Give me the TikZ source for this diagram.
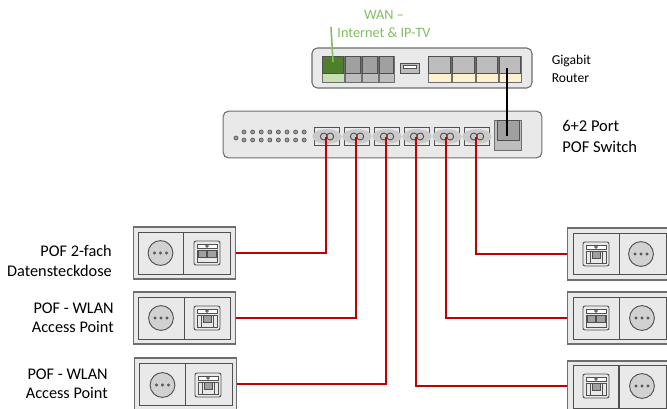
\documentclass[tikz,border=0pt]{standalone}
\usepackage{fontspec}
\setmainfont{Carlito}
\definecolor{boxfill}{HTML}{E9E9E9}
\definecolor{edge}{HTML}{6E6E6E}
\definecolor{darkedge}{HTML}{505050}
\definecolor{portdark}{HTML}{A0A0A0}
\definecolor{portlight}{HTML}{BDBDBD}
\definecolor{wandark}{HTML}{4E7F2A}
\definecolor{wanlight}{HTML}{C6E0B4}
\definecolor{cream}{HTML}{FFF2CC}
\definecolor{wangreen}{HTML}{84BD62}
\definecolor{pofred}{HTML}{C00000}
\tikzset{
  x=0.75pt,y=-0.75pt,
  lbl/.style={font=\fontsize{12.2pt}{14.4pt}\selectfont,text=black,inner sep=0pt,align=right},
  swlbl/.style={font=\fontsize{12.4pt}{15.6pt}\selectfont,text=black,inner sep=0pt,align=left},
  smalllbl/.style={font=\fontsize{10.2pt}{13.5pt}\selectfont,text=black,inner sep=0pt,align=left},
  wanlbl/.style={font=\fontsize{10.7pt}{13.5pt}\selectfont,text=wangreen,inner sep=0pt,align=center},
  device/.style={draw=edge,line width=0.8pt,fill=boxfill,rounded corners=4pt,inner sep=0pt},
  plate/.style={draw=edge,line width=0.8pt,fill=boxfill,inner sep=0pt},
  ln/.style={draw=darkedge,line width=0.7pt},
  redline/.style={draw=pofred,line width=1.3pt},
  blackline/.style={draw=black,line width=1.2pt},
  greenline/.style={draw=wangreen,line width=1.2pt},
  swport/.style={draw=darkedge,line width=0.7pt,fill=boxfill,minimum width=19pt,minimum height=14pt,inner sep=0pt},
  rport/.style={inner sep=0pt,minimum size=0pt}
}
% outlet drawn around a centre
\newcommand{\socketface}[2]{%
  \draw[ln,fill=portlight!55!boxfill] (#1,#2) circle (9.3pt);
  \foreach \d in {-6,0,6}{\draw[draw=darkedge,line width=0.5pt,fill=portdark] (#1+\d,#2) circle (0.8pt);}
}
\newcommand{\dataface}[3]{% x y kind (1 dual, 0 single)
  \begin{scope}[shift={(#1,#2)}]
    \draw[ln,fill=boxfill,rounded corners=1.5pt] (-13,-12) rectangle (13,12);
    \draw[draw=darkedge,line width=0.5pt,fill=white] (-10,-9) rectangle (10,-5);
    \draw[draw=darkedge,line width=0.5pt,fill=portdark] (0,-7) circle (1pt);
    \ifnum#3=1
      \draw[ln,fill=boxfill] (-10,-3) rectangle (10,9);
      \draw[draw=darkedge,line width=0.5pt,fill=portdark] (-9,-3) rectangle (-0.5,4);
      \draw[draw=darkedge,line width=0.5pt,fill=portdark] (0.5,-3) rectangle (9,4);
    \else
      \draw[ln,fill=boxfill] (-10,-3) rectangle (10,9);
      \draw[ln,fill=boxfill] (-6,-3) rectangle (6,9);
      \draw[draw=darkedge,line width=0.5pt,fill=portdark] (-4,-3) rectangle (4,4);
    \fi
  \end{scope}
}
\newcommand{\rj}[5]{% x1 x2 fill-top fill-bottom name
  \draw[draw=edge,line width=0.6pt,fill=#4] (#1,56) rectangle (#2,82);
  \draw[draw=darkedge,line width=0.6pt,fill=#3] (#1+0.7,56.5) rectangle (#2-0.7,73);
  \node[rport] (#5) at ({(#1+#2)/2},69) {};
}
\begin{document}
\begin{tikzpicture}
\useasboundingbox (0,0) rectangle (667,408);
\fill[white] (0,0) rectangle (667,408);

% router
\node[device,minimum width=165pt,minimum height=30pt] (router) at (422,68) {};
\rj{322}{344}{wandark}{wanlight}{wan}
\rj{345}{361}{portdark}{portlight}{r2}
\rj{362}{378}{portdark}{portlight}{r3}
\rj{379}{394}{portdark}{portlight}{r4}
\rj{428}{451}{portlight}{cream}{l1}
\rj{452}{475}{portlight}{cream}{l2}
\rj{476}{498}{portlight}{cream}{l3}
\rj{499}{521}{portlight}{cream}{l4}
\coordinate (l4tap) at (507,68);
\node[draw=darkedge,line width=0.7pt,fill=portlight,minimum width=14.5pt,minimum height=7.5pt,inner sep=0pt] (usb) at (410,68) {};
\node[draw=darkedge,line width=0.4pt,fill=white,minimum width=10pt,minimum height=2.5pt,inner sep=0pt] (usbi) at (410,67) {};

% switch
\node[device,minimum width=239pt,minimum height=35pt] (switch) at (382.5,134.5) {};
\foreach \c in {0,...,7}{
  \draw[draw=darkedge,line width=0.5pt,fill=portdark] (244+\c*8.6,132) circle (1.5pt);
  \draw[draw=darkedge,line width=0.5pt,fill=portdark] (244+\c*8.6,140) circle (1.5pt);
}
\draw[draw=darkedge,line width=0.5pt,fill=portdark] (236,138) circle (1.5pt);
\foreach \n/\x in {1/327,2/357,3/387,4/417,5/447,6/477}{
  \node[swport] (p\n) at (\x,136.5) {};
  \fill[portlight!70!boxfill] (\x,136.5) ellipse (11pt and 5.5pt);
  \draw[draw=darkedge,line width=0.7pt] (\x-3.2,136.5) circle (2.6pt);
  \draw[draw=darkedge,line width=0.7pt] (\x+3.2,136.5) circle (2.6pt);
  \coordinate (c\n) at (\x-0.7,136.5);
}
\node[draw=edge,line width=0.7pt,fill=portlight,minimum width=20pt,minimum height=23pt,inner sep=0pt] (up) at (508,135.5) {};
\node[draw=darkedge,line width=0.7pt,fill=portdark,minimum width=16.5pt,minimum height=14.5pt,inner sep=0pt] (upi) at (508,130.5) {};

% wall plates
\foreach \nm/\cx/\cy/\h in {a/184.5/253/52, b/184.5/318/52, c/185.5/384/52}{
  \node[plate,minimum width=77pt,minimum height=\h*0.75pt] (\nm) at (\cx,\cy) {};
}
\draw[ln,fill=boxfill] (138,232) rectangle (230,274);
\draw[ln] (183,232) -- (183,274);
\draw[ln,fill=boxfill] (138,297) rectangle (230,339);
\draw[ln] (184,297) -- (184,339);
\draw[ln,fill=boxfill] (139,363) rectangle (232,405);
\draw[ln] (185,363) -- (185,405);
\socketface{160.5}{253}\dataface{207}{253}{1}
\socketface{161}{318}\dataface{207}{318}{0}
\socketface{162.5}{385}\dataface{208}{385}{0}

\foreach \nm/\cx/\cy/\h in {d/617.5/254/52, e/617.5/318/52, f/617.5/386/50}{
  \node[plate,minimum width=75pt,minimum height=\h*0.75pt] (\nm) at (\cx,\cy) {};
}
\draw[ln,fill=boxfill] (573,233) rectangle (666,274);
\draw[ln] (619,233) -- (619,274);
\draw[ln,fill=boxfill] (573,297) rectangle (666,339);
\draw[ln] (619,297) -- (619,339);
\draw[ln,fill=boxfill] (573,365) rectangle (666,408);
\draw[ln,line width=1pt] (619,365) -- (619,408);
\dataface{596}{254}{0}\socketface{641}{254}
\dataface{596}{318}{1}\socketface{642}{318}
\dataface{596}{386}{0}\socketface{642}{386}

% connectors
\coordinate (wantop) at (331,27);
\draw[greenline] (wantop) -- (wan.center |- 0,62);
\draw[blackline] (l4tap) -- (l4tap |- up.center);
\draw[redline] (c1) |- (a.east);
\draw[redline] (c2) |- (b.east);
\draw[redline] (c3) |- (c.east);
\draw[redline] (c4) |- (f.west);
\draw[redline] (c5) |- (e.west);
\draw[redline] (c6) |- (d.west);

% labels
\node[wanlbl] (wanlabel) at (384,24) {WAN --\\Internet \& IP-TV};
\node[smalllbl,anchor=west] (rlabel) at (551.5,69) {Gigabit\\Router};
\node[swlbl,anchor=west] (slabel) at (562,136.5) {6+2 Port\\POF Switch};
\node[lbl,anchor=east] (la) at (112,261) {POF 2-fach\\Datensteckdose};
\node[lbl,anchor=east] (lb) at (114,317.5) {POF - WLAN\\Access Point};
\node[lbl,anchor=east] (lc) at (108,383.5) {POF - WLAN\\Access Point};
\end{tikzpicture}
\end{document}
